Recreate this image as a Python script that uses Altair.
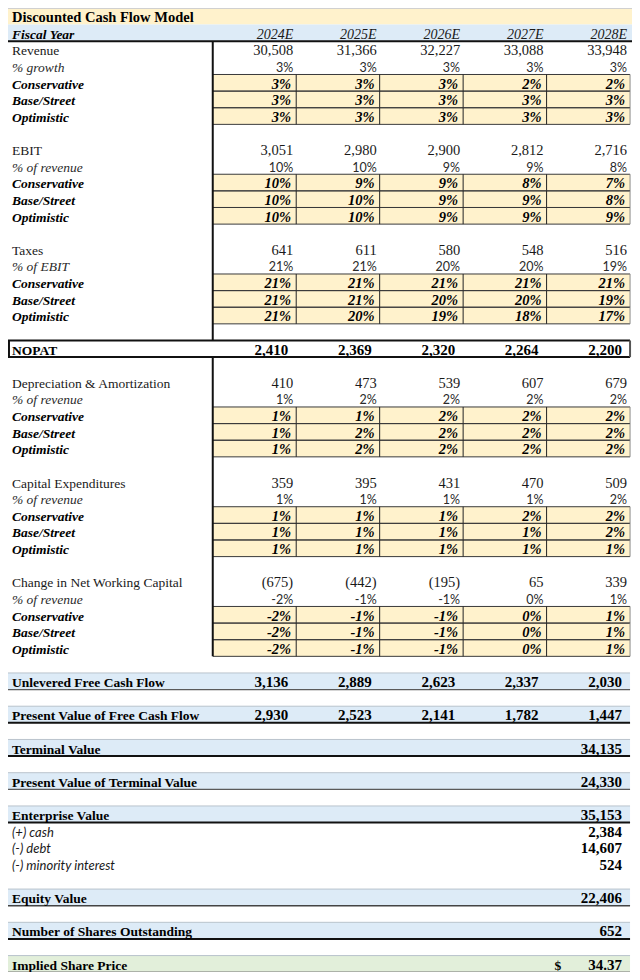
import altair as alt
import pandas as pd

# ---------------- data ----------------
YEARS = ["2024E", "2025E", "2026E", "2027E", "2028E"]
SCENARIOS = ["Conservative", "Base/Street", "Optimistic"]

REVENUE = [30508, 31366, 32227, 33088, 33948]
REV_GROWTH = [3, 3, 3, 3, 3]
REV_CONS = [3, 3, 3, 2, 2]
REV_BASE = [3, 3, 3, 3, 3]
REV_OPT = [3, 3, 3, 3, 3]

EBIT = [3051, 2980, 2900, 2812, 2716]
EBIT_MARGIN = [10, 10, 9, 9, 8]
EBIT_CONS = [10, 9, 9, 8, 7]
EBIT_BASE = [10, 10, 9, 9, 8]
EBIT_OPT = [10, 10, 9, 9, 9]

TAXES = [641, 611, 580, 548, 516]
TAX_RATE = [21, 21, 20, 20, 19]
TAX_CONS = [21, 21, 21, 21, 21]
TAX_BASE = [21, 21, 20, 20, 19]
TAX_OPT = [21, 20, 19, 18, 17]

NOPAT = [2410, 2369, 2320, 2264, 2200]

DA = [410, 473, 539, 607, 679]
DA_PCT = [1, 2, 2, 2, 2]
DA_CONS = [1, 1, 2, 2, 2]
DA_BASE = [1, 2, 2, 2, 2]
DA_OPT = [1, 2, 2, 2, 2]

CAPEX = [359, 395, 431, 470, 509]
CAPEX_PCT = [1, 1, 1, 1, 2]
CAPEX_CONS = [1, 1, 1, 2, 2]
CAPEX_BASE = [1, 1, 1, 1, 2]
CAPEX_OPT = [1, 1, 1, 1, 1]

NWC = [-675, -442, -195, 65, 339]
NWC_PCT = [-2, -1, -1, 0, 1]
NWC_CONS = [-2, -1, -1, 0, 1]
NWC_BASE = [-2, -1, -1, 0, 1]
NWC_OPT = [-2, -1, -1, 0, 1]

UFCF = [3136, 2889, 2623, 2337, 2030]
PV_FCF = [2930, 2523, 2141, 1782, 1447]
TERMINAL_VALUE = 34135
PV_TERMINAL = 24330
ENTERPRISE_VALUE = 35153
CASH = 2384
DEBT = 14607
MINORITY = 524
EQUITY_VALUE = 22406
SHARES = 652
SHARE_PRICE = 34.37

# ---------------- layout constants ----------------
ROW_H = 16.9
LABEL_W = 210
COL_W = 85.6
RIGHT = LABEL_W + 5 * COL_W
YELLOW = "#FFF2CC"
BLUE = "#DDEBF7"
GREEN = "#E2EFDA"


def fnum(v):
    return f"({abs(v):,})" if v < 0 else f"{v:,}"


def fpct(v):
    return f"{v}%"


rows = []
rows.append(("title", "Discounted Cash Flow Model", None, None))
rows.append(("header", "Fiscal Year", YEARS, None))


def block(label, vals, pct_label, pct, scen):
    rows.append(("item", label, [fnum(v) for v in vals], None))
    rows.append(("pct", pct_label, [fpct(p) for p in pct], None))
    for name, s in zip(SCENARIOS, scen):
        rows.append(("scen", name, [fpct(p) for p in s], None))


def blank():
    rows.append(("blank", "", None, None))


block("Revenue", REVENUE, "% growth", REV_GROWTH, [REV_CONS, REV_BASE, REV_OPT])
blank()
block("EBIT", EBIT, "% of revenue", EBIT_MARGIN, [EBIT_CONS, EBIT_BASE, EBIT_OPT])
blank()
block("Taxes", TAXES, "% of EBIT", TAX_RATE, [TAX_CONS, TAX_BASE, TAX_OPT])
blank()
rows.append(("nopat", "NOPAT", [fnum(v) for v in NOPAT], None))
blank()
block("Depreciation & Amortization", DA, "% of revenue", DA_PCT, [DA_CONS, DA_BASE, DA_OPT])
blank()
block("Capital Expenditures", CAPEX, "% of revenue", CAPEX_PCT, [CAPEX_CONS, CAPEX_BASE, CAPEX_OPT])
blank()
block("Change in Net Working Capital", NWC, "% of revenue", NWC_PCT, [NWC_CONS, NWC_BASE, NWC_OPT])
blank()
rows.append(("blue", "Unlevered Free Cash Flow", [fnum(v) for v in UFCF], ("#5a5a5a", 1.2)))
blank()
rows.append(("blue", "Present Value of Free Cash Flow", [fnum(v) for v in PV_FCF], ("#111111", 2)))
blank()
rows.append(("blue", "Terminal Value", [""] * 4 + [fnum(TERMINAL_VALUE)], ("#111111", 2)))
blank()
rows.append(("blue", "Present Value of Terminal Value", [""] * 4 + [fnum(PV_TERMINAL)], ("#5a5a5a", 1.2)))
blank()
rows.append(("blue", "Enterprise Value", [""] * 4 + [fnum(ENTERPRISE_VALUE)], ("#111111", 2)))
rows.append(("adj", "(+) cash", [""] * 4 + [fnum(CASH)], None))
rows.append(("adj", "(-) debt", [""] * 4 + [fnum(DEBT)], None))
rows.append(("adj", "(-) minority interest", [""] * 4 + [fnum(MINORITY)], None))
blank()
rows.append(("blue", "Equity Value", [""] * 4 + [fnum(EQUITY_VALUE)], ("#444444", 1.5)))
blank()
rows.append(("blue", "Number of Shares Outstanding", [""] * 4 + [fnum(SHARES)], ("#111111", 2)))
blank()
rows.append(("price", "Implied Share Price", [""] * 4 + [f"{SHARE_PRICE:.2f}"], ("#777777", 1.5)))

cells, lines, texts = [], [], []


def hline(x, x2, y, color, w):
    lines.append(dict(x=x, x2=x2, y=y, y2=y, c=color, w=w))


def vline(x, y, y2, color, w):
    lines.append(dict(x=x, x2=x, y=y, y2=y2, c=color, w=w))


col_l = [LABEL_W + j * COL_W for j in range(5)]
col_r = [LABEL_W + (j + 1) * COL_W for j in range(5)]

nopat_row = None
for i, (kind, label, vals, border) in enumerate(rows):
    top, bot = i * ROW_H, (i + 1) * ROW_H
    if kind == "title":
        cells.append(dict(x=0, x2=640, y=top, y2=bot, c=YELLOW))
        hline(0, 640, top + 0.5, "#d0d0d0", 1)
        texts.append(dict(x=0, y=bot, t=label, s="title"))
    elif kind == "header":
        cells.append(dict(x=0, x2=640, y=top, y2=bot, c=BLUE))
        hline(0, 640, bot, "#111111", 2)
        texts.append(dict(x=0, y=bot, t=label, s="scen_label"))
        for j, v in enumerate(vals):
            texts.append(dict(x=col_r[j], y=bot, t=v, s="year_val"))
    elif kind in ("item", "pct", "scen"):
        texts.append(dict(x=0, y=bot, t=label, s=kind + "_label"))
        for j, v in enumerate(vals):
            texts.append(dict(x=col_r[j], y=bot, t=v, s=kind + "_val"))
        if kind == "scen":
            for j in range(5):
                cells.append(dict(x=col_l[j], x2=col_r[j], y=top, y2=bot, c=YELLOW))
            hline(LABEL_W, RIGHT, top, "#3a3a3a", 1)
            hline(LABEL_W, RIGHT, bot, "#3a3a3a", 1)
            for j in range(1, 5):
                vline(col_l[j], top, bot, "#222222", 1)
            vline(RIGHT, top, bot, "#8a8a8a", 1)
    elif kind == "nopat":
        nopat_row = i
        texts.append(dict(x=0, y=bot, t=label, s="bold_label"))
        for j, v in enumerate(vals):
            texts.append(dict(x=col_r[j], y=bot, t=v, s="bold_val"))
        hline(0, RIGHT, top, "#111111", 2)
        hline(0, RIGHT, bot, "#111111", 2)
        vline(1, top, bot, "#111111", 2)
        vline(RIGHT, top, bot, "#555555", 2)
    elif kind in ("blue", "price"):
        cells.append(dict(x=0, x2=RIGHT, y=top, y2=bot, c=BLUE if kind == "blue" else GREEN))
        hline(0, RIGHT, top, "#b9c3cc", 1)
        hline(0, RIGHT, bot, border[0], border[1])
        texts.append(dict(x=0, y=bot, t=label, s="bold_label"))
        for j, v in enumerate(vals):
            if v:
                texts.append(dict(x=col_r[j], y=bot, t=v, s="bold_val"))
        if kind == "price":
            texts.append(dict(x=col_l[4], y=bot, t="$", s="dollar"))
    elif kind == "adj":
        texts.append(dict(x=0, y=bot, t=label, s="adj_label"))
        for j, v in enumerate(vals):
            if v:
                texts.append(dict(x=col_r[j], y=bot, t=v, s="bold_val"))

# main vertical divider (interrupted by the NOPAT box)
vline(LABEL_W, 2 * ROW_H, nopat_row * ROW_H, "#111111", 2)
vline(LABEL_W, (nopat_row + 1) * ROW_H, 39 * ROW_H, "#111111", 2)

cells_df = pd.DataFrame(cells)
lines_df = pd.DataFrame(lines)
texts_df = pd.DataFrame(texts)

X = alt.Scale(domain=[0, 640], nice=False, zero=False)
Y = alt.Scale(domain=[0, 980], nice=False, zero=False, reverse=True)

bg = alt.Chart(cells_df).mark_rect(strokeWidth=0).encode(
    x=alt.X("x:Q", scale=X, axis=None),
    x2="x2:Q",
    y=alt.Y("y:Q", scale=Y, axis=None),
    y2="y2:Q",
    color=alt.Color("c:N", scale=None),
)

rules = alt.Chart(lines_df).mark_rule().encode(
    x=alt.X("x:Q", scale=X, axis=None),
    x2="x2:Q",
    y=alt.Y("y:Q", scale=Y, axis=None),
    y2="y2:Q",
    color=alt.Color("c:N", scale=None),
    strokeWidth=alt.StrokeWidth("w:Q", scale=None),
)

SERIF = "Liberation Serif"
SANS = "Lato"
styles = {
    "title": dict(font=SERIF, fontSize=14.5, fontWeight="bold", align="left", dx=4, color="#000"),
    "scen_label": dict(font=SERIF, fontSize=13.5, fontWeight="bold", fontStyle="italic", align="left", dx=4, color="#000"),
    "year_val": dict(font=SERIF, fontSize=14, fontStyle="italic", align="right", dx=-3, color="#1a1a1a"),
    "item_label": dict(font=SERIF, fontSize=13.5, align="left", dx=4, color="#1a1a1a"),
    "item_val": dict(font=SERIF, fontSize=14.5, align="right", dx=-3, color="#1a1a1a"),
    "pct_label": dict(font=SERIF, fontSize=13.5, fontStyle="italic", align="left", dx=4, color="#2a2a2a"),
    "pct_val": dict(font=SANS, fontSize=12.5, align="right", dx=-3, color="#2a2a2a"),
    "scen_val": dict(font=SERIF, fontSize=14.5, fontWeight="bold", fontStyle="italic", align="right", dx=-5, color="#000"),
    "bold_label": dict(font=SERIF, fontSize=13.5, fontWeight="bold", align="left", dx=4, color="#000"),
    "bold_val": dict(font=SERIF, fontSize=15, fontWeight="bold", align="right", dx=-8, color="#000"),
    "adj_label": dict(font=SANS, fontSize=13, fontStyle="italic", align="left", dx=4, color="#1a1a1a"),
    "dollar": dict(font=SERIF, fontSize=13.5, fontWeight="bold", align="left", dx=8, color="#000"),
}

layers = [bg, rules]
for s, p in styles.items():
    layers.append(
        alt.Chart(texts_df)
        .transform_filter(alt.datum.s == s)
        .mark_text(baseline="alphabetic", dy=-2.5, **p)
        .encode(
            x=alt.X("x:Q", scale=X, axis=None),
            y=alt.Y("y:Q", scale=Y, axis=None),
            text="t:N",
        )
    )

chart = (
    alt.layer(*layers)
    .properties(width=624, height=964, padding=0, autosize=alt.AutoSizeParams(type="none"))
    .configure_view(strokeWidth=0)
)

chart.save("out.html", embed_options={"renderer": "svg", "actions": False})
